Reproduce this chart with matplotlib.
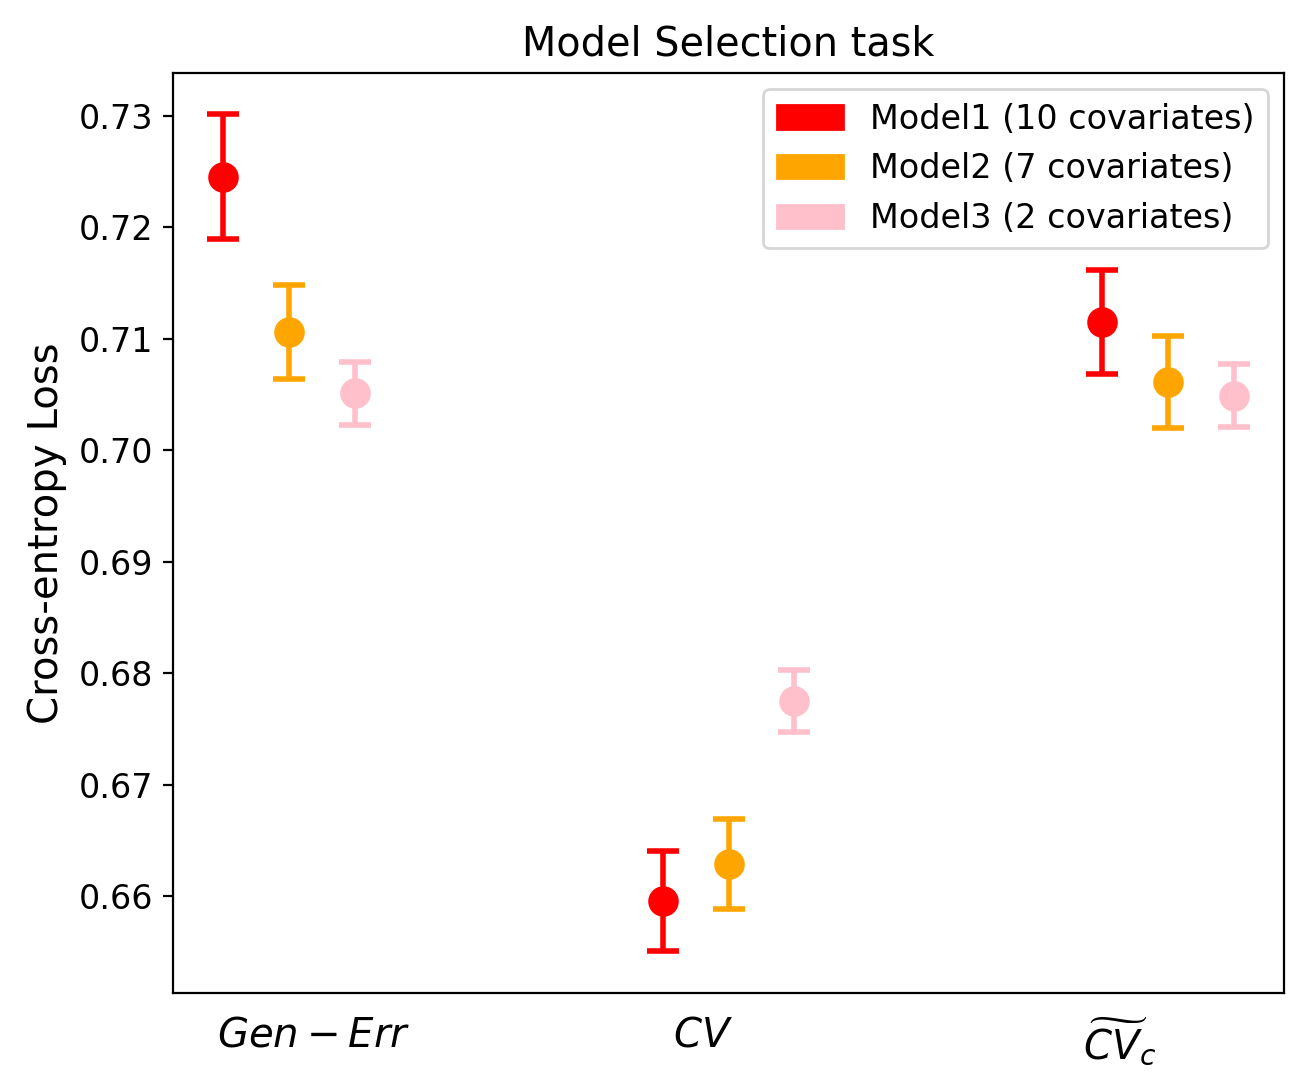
import matplotlib
matplotlib.use("Agg")
import matplotlib.pyplot as plt
import matplotlib.patches as mpatches
import numpy as np

groups = [r'$Gen-Err$', r'$CV$', r'$\widetilde{CV}_c$']
models = ['Model1 (10 covariates)', 'Model2 (7 covariates)', 'Model3 (2 covariates)']
colors = ['red', 'orange', 'pink']

means = {
    'Model1 (10 covariates)': [0.7245, 0.6596, 0.7115],
    'Model2 (7 covariates)': [0.7106, 0.6629, 0.7061],
    'Model3 (2 covariates)': [0.7051, 0.6775, 0.7049],
}
errs = {
    'Model1 (10 covariates)': [0.0056, 0.0045, 0.0047],
    'Model2 (7 covariates)': [0.0042, 0.0040, 0.0041],
    'Model3 (2 covariates)': [0.0028, 0.0028, 0.0028],
}
offsets = [-0.15, 0.0, 0.15]
tick_pos = [0.057, 0.941, 1.889]

fig, ax = plt.subplots(figsize=(6.54, 5.42), dpi=200)
fig.subplots_adjust(left=0.132, right=0.982, top=0.933, bottom=0.084)

x = np.arange(len(groups))
for m, c, off in zip(models, colors, offsets):
    ax.errorbar(x + off, means[m], yerr=errs[m], fmt='o', color=c,
                markersize=10, elinewidth=2, capsize=5.8, capthick=2)

handles = [mpatches.Patch(color=c, label=m) for m, c in zip(models, colors)]
ax.legend(handles=handles, loc='upper right', fontsize=12)

ax.set_xticks(tick_pos)
ax.set_xticklabels(groups, fontsize=14.5)
ax.tick_params(axis='x', length=0, pad=8)
ax.tick_params(axis='y', labelsize=12)
ax.set_yticks([0.66, 0.67, 0.68, 0.69, 0.70, 0.71, 0.72, 0.73])
ax.set_ylabel('Cross-entropy Loss', fontsize=14.5)
ax.set_title('Model Selection task', fontsize=14.3)

fig.savefig('out.png', dpi=200)
